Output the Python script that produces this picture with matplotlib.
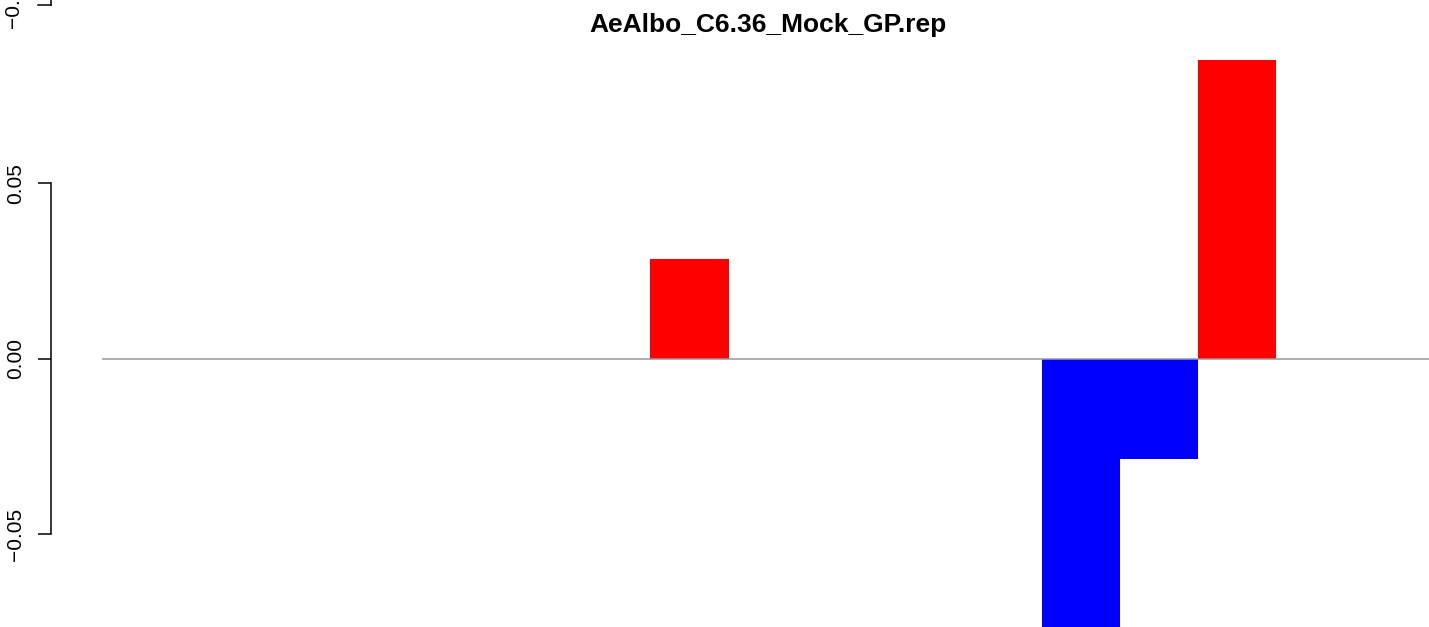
import matplotlib
matplotlib.use("Agg")
import matplotlib.pyplot as plt
from matplotlib.lines import Line2D

plt.rcParams['font.family'] = ['Liberation Sans', 'DejaVu Sans']

title = "AeAlbo_C6.36_Mock_GP.rep"
values = [0, 0, 0, 0, 0, 0, 0, 0.0284, 0, 0, 0, 0, -0.0851, -0.0285, 0.0851, 0, 0]
colors = ['#FF0000' if v > 0 else '#0000FF' for v in values]
yticks = [-0.05, 0.0, 0.05]
yticklabels = ["\u22120.05", "0.00", "0.05"]

W, H, DPI = 1429, 627, 100
fig = plt.figure(figsize=(W / DPI, H / DPI), dpi=DPI)
ax = fig.add_axes([0, 0, 1, 1])
ax.patch.set_alpha(0)

x0_px, unit_px = 102.5, 78.25
zero_px_from_bottom, scale = 268.2, 3510.0
ax.set_xlim(-x0_px / unit_px, (W - x0_px) / unit_px)
ax.set_ylim(-zero_px_from_bottom / scale, (H - zero_px_from_bottom) / scale)

n = len(values)
ax.bar(range(n), values, width=1.0, align='edge', color=colors, linewidth=0)
ax.hlines(0, 0, n, color='#999999', linewidth=1.1, zorder=3)

for s in ['top', 'right', 'bottom']:
    ax.spines[s].set_visible(False)
ax.spines['left'].set_position(('data', (51 - x0_px) / unit_px))
ax.spines['left'].set_bounds(-0.05, 0.05)
ax.spines['left'].set_linewidth(1.1)
ax.set_xticks([])
ax.set_yticks(yticks)
ax.set_yticklabels(yticklabels, rotation=90, va='center', ha='right', fontsize=15)
ax.tick_params(axis='y', direction='out', length=9.4, width=1.1, pad=9)

# title centred over the bar region
ax.text(n / 2, 1 - 32 / H, title, transform=ax.get_xaxis_transform(),
        ha='center', va='baseline', fontsize=19, fontweight='bold')

# fragment of neighbouring panel's axis at the very top edge
fig.add_artist(Line2D([38 / W, 51 / W], [1 - 5 / H, 1 - 5 / H],
                      color='black', linewidth=1.1))
fig.add_artist(Line2D([51 / W, 51 / W], [1 - 5 / H, 1.0],
                      color='black', linewidth=1.1))
fig.text(13 / W, 1 - 1 / H, "\u22120.10", rotation=90, ha='center', va='center',
         fontsize=15)

fig.savefig("out.png", dpi=DPI)
